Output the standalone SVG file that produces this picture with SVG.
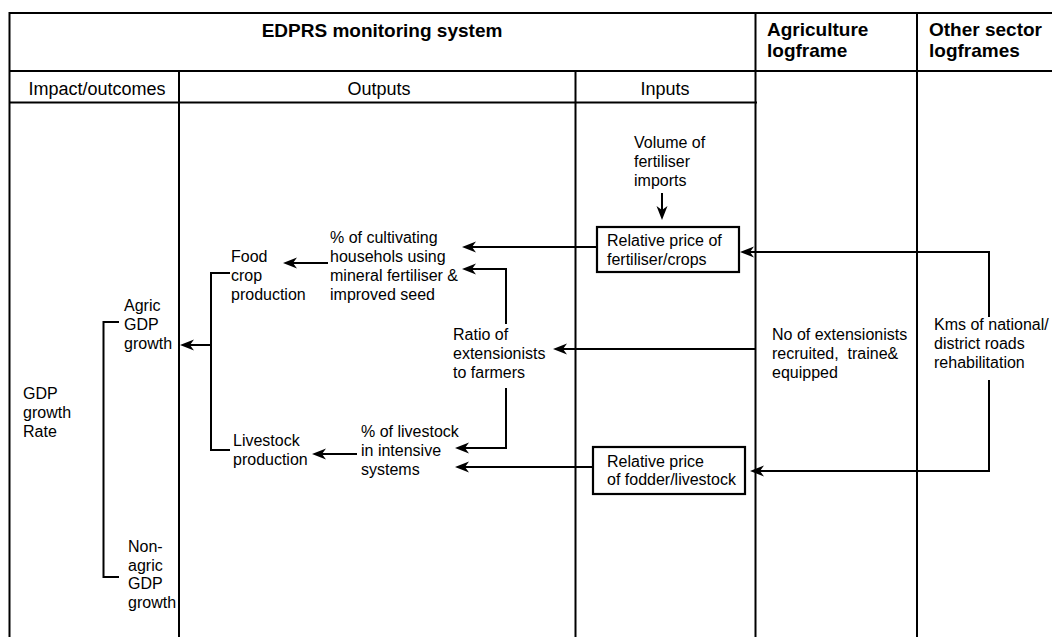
<svg xmlns="http://www.w3.org/2000/svg" width="1052" height="637" viewBox="0 0 1052 637">
  <style>
    .grid { stroke: #000; stroke-width: 2; fill: none; }
    .conn { stroke: #000; stroke-width: 2; fill: none; }
    .box { stroke: #000; stroke-width: 2.2; fill: #fff; }
    text { font-family: "Liberation Sans", Arial, sans-serif; fill: #000; }
    .head { font-size: 19px; font-weight: bold; }
    .sub { font-size: 18px; }
    .lbl { font-size: 16px; }
  </style>
  <defs>
    <marker id="arrow" markerUnits="userSpaceOnUse" viewBox="0 -6 15 12" markerWidth="15" markerHeight="12" refX="11" refY="0" orient="auto">
      <path d="M0,-5.5 L14,0 L0,5.5 L4,0 Z" fill="#000"/>
    </marker>
  </defs>
  <rect width="1052" height="637" fill="#fff"/>

  <!-- table grid -->
  <g id="grid" class="grid">
    <line x1="9" y1="13" x2="1052" y2="13"/>
    <line x1="9.5" y1="12" x2="9.5" y2="637"/>
    <line x1="9" y1="71" x2="1052" y2="71"/>
    <line x1="9" y1="102.5" x2="757" y2="102.5"/>
    <line x1="179" y1="71" x2="179" y2="637"/>
    <line x1="575.5" y1="71" x2="575.5" y2="637"/>
    <line x1="755.5" y1="12" x2="755.5" y2="637"/>
    <line x1="917" y1="12" x2="917" y2="637"/>
  </g>

  <!-- column headers -->
  <g id="headers">
    <text class="head" x="382" y="37" text-anchor="middle">EDPRS monitoring system</text>
    <text class="head" x="767" y="36">Agriculture</text>
    <text class="head" x="767" y="57">logframe</text>
    <text class="head" x="929" y="36">Other sector</text>
    <text class="head" x="929" y="57">logframes</text>
    <text class="sub" x="97" y="95" text-anchor="middle">Impact/outcomes</text>
    <text class="sub" x="379" y="95" text-anchor="middle">Outputs</text>
    <text class="sub" x="665" y="95" text-anchor="middle">Inputs</text>
  </g>

  <!-- impact / outcomes -->
  <g id="gdp-growth-rate" class="lbl">
    <text x="23" y="399">GDP</text>
    <text x="23" y="418">growth</text>
    <text x="23" y="437">Rate</text>
  </g>
  <g id="agric-gdp-growth" class="lbl">
    <text x="124" y="311">Agric</text>
    <text x="124" y="330">GDP</text>
    <text x="124" y="349">growth</text>
  </g>
  <g id="non-agric-gdp-growth" class="lbl">
    <text x="128" y="552">Non-</text>
    <text x="128" y="570.5">agric</text>
    <text x="128" y="589">GDP</text>
    <text x="128" y="607.5">growth</text>
  </g>

  <!-- outputs -->
  <g id="food-crop-production" class="lbl">
    <text x="231" y="262">Food</text>
    <text x="231" y="281">crop</text>
    <text x="231" y="300">production</text>
  </g>
  <g id="livestock-production" class="lbl">
    <text x="233" y="446">Livestock</text>
    <text x="233" y="465">production</text>
  </g>
  <g id="cultivating-households" class="lbl">
    <text x="330" y="243">% of cultivating</text>
    <text x="330" y="262">househols using</text>
    <text x="330" y="281">mineral fertiliser &amp;</text>
    <text x="330" y="299.5">improved seed</text>
  </g>
  <g id="extensionist-ratio" class="lbl">
    <text x="453" y="340">Ratio of</text>
    <text x="453" y="359">extensionists</text>
    <text x="453" y="378">to farmers</text>
  </g>
  <g id="intensive-livestock" class="lbl">
    <text x="361" y="437">% of livestock</text>
    <text x="361" y="456">in intensive</text>
    <text x="361" y="475">systems</text>
  </g>

  <!-- inputs -->
  <g id="fertiliser-imports" class="lbl">
    <text x="634" y="148">Volume of</text>
    <text x="634" y="167">fertiliser</text>
    <text x="634" y="186">imports</text>
  </g>
  <g id="price-fertiliser">
    <rect class="box" x="597" y="227" width="142" height="45"/>
    <text class="lbl" x="607" y="246">Relative price of</text>
    <text class="lbl" x="607" y="265">fertiliser/crops</text>
  </g>
  <g id="price-fodder">
    <rect class="box" x="593" y="447" width="152" height="47"/>
    <text class="lbl" x="607" y="467">Relative price</text>
    <text class="lbl" x="607" y="485">of fodder/livestock</text>
  </g>

  <!-- agriculture logframe -->
  <g id="extensionists-recruited" class="lbl">
    <text x="772" y="340">No of extensionists</text>
    <text x="772" y="359" xml:space="preserve">recruited,  traine&amp;</text>
    <text x="772" y="378">equipped</text>
  </g>

  <!-- other sector logframes -->
  <g id="roads-rehabilitation" class="lbl">
    <text x="934" y="330">Kms of national/</text>
    <text x="934" y="349">district roads</text>
    <text x="934" y="368">rehabilitation</text>
  </g>

  <!-- connectors -->
  <g id="connectors" class="conn">
    <!-- bracket of GDP components -->
    <polyline points="119,322 103.5,322 103.5,577 119,577"/>
    <!-- bracket of agricultural production -->
    <polyline points="230,273 211,273 211,450 230,450"/>
    <line x1="211" y1="345" x2="183" y2="345" marker-end="url(#arrow)"/>
    <line x1="328" y1="263" x2="286" y2="263" marker-end="url(#arrow)"/>
    <line x1="357" y1="454" x2="315" y2="454" marker-end="url(#arrow)"/>
    <line x1="597" y1="247" x2="465" y2="247" marker-end="url(#arrow)"/>
    <polyline points="506,324 506,269 465,269" marker-end="url(#arrow)"/>
    <polyline points="506,388 506,448 458,448" marker-end="url(#arrow)"/>
    <line x1="593" y1="467" x2="458" y2="467" marker-end="url(#arrow)"/>
    <line x1="662" y1="193" x2="662" y2="217" marker-end="url(#arrow)"/>
    <line x1="755" y1="349" x2="556" y2="349" marker-end="url(#arrow)"/>
    <polyline points="989,317 989,252 743,252" marker-end="url(#arrow)"/>
    <polyline points="989,380 989,471 753,471" marker-end="url(#arrow)"/>
  </g>
</svg>
